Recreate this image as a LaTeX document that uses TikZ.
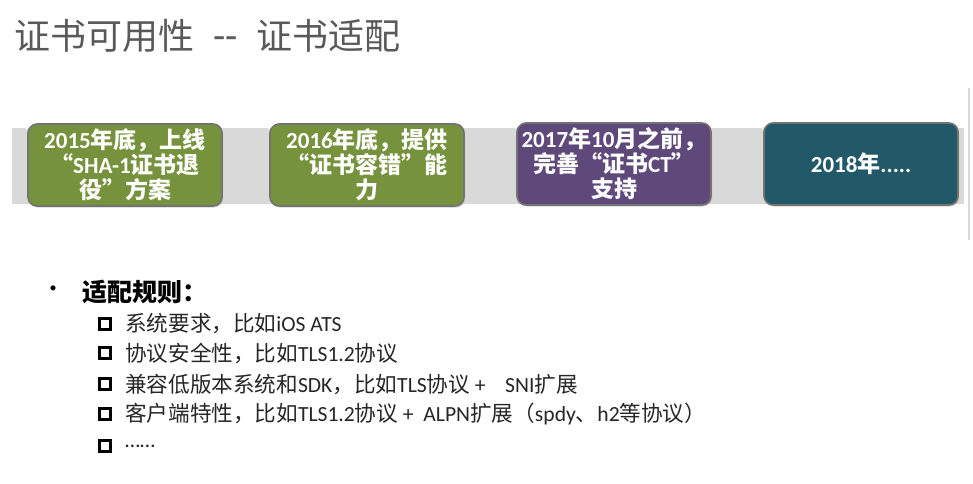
\documentclass[tikz,border=0pt]{standalone}
\usepackage{fontspec}
\setmainfont{Noto Sans CJK SC}
\newfontfamily\lat{Carlito}
\usetikzlibrary{shadows}
\definecolor{olive}{HTML}{76923C}
\definecolor{purp}{HTML}{5F497A}
\definecolor{teal}{HTML}{215968}
\definecolor{band}{HTML}{D9D9D9}
\definecolor{titlegray}{HTML}{595959}
\tikzset{
  stagebox/.style={rounded corners=9pt, draw=black!55, line width=1.6pt, minimum width=194pt, minimum height=82pt,
    text=white, font=\bfseries\fontsize{23}{25}\selectfont, align=center, inner sep=0pt,
    drop shadow={shadow xshift=1pt, shadow yshift=-1.5pt, opacity=0.35}},
  itemtext/.style={anchor=west, font=\fontsize{21.6}{23}\selectfont, text=black!85, inner sep=0pt},
  cbox/.style={draw=black, line width=3.2pt, minimum size=10.5pt, inner sep=0pt},
  notch/.style={fill=white}
}
\begin{document}
\begin{tikzpicture}[x=1pt,y=-1pt]
\useasboundingbox (0,0) rectangle (973,483);
\fill[white] (0,0) rectangle (973,483);
\node[anchor=west, text=titlegray, font=\fontsize{36}{40}\selectfont, inner sep=0pt] (title) at (14,36) {证书可用性\hspace{19pt}{\lat\fontsize{40}{40}\selectfont -{}-}\hspace{19pt}证书适配};
\draw[black!15, line width=1.5pt] (969,88) -- (969,240);
\fill[band] (12,128) rectangle (964,204);
\node[stagebox, fill=olive] (b1) at (125,165) {{\lat 2015}年底，上线\\“{\lat SHA-1}证书退\\役”方案};
\node[stagebox, fill=olive] (b2) at (367,165) {{\lat 2016}年底，提供\\“证书容错”能\\力};
\node[stagebox, fill=purp] (b3) at (614,164) {{\lat 2017}年{\lat 10}月之前，\\完善“证书{\lat CT}”\\支持};
\node[stagebox, fill=teal] (b4) at (861,164) {{\lat 2018}年{\lat .....}};
\foreach \b in {b1,b2,b3,b4} {
  \fill[notch] (\b.north west) ++(-1,-1) -- ++(8,0) -- ++(-8,8) -- cycle;
}
\node[anchor=west, font=\fontsize{24}{26}\selectfont, inner sep=0pt] (dot) at (41,292) {•};
\node[anchor=west, font=\bfseries\fontsize{25}{28}\selectfont, inner sep=0pt] (head) at (82,292) {适配规则：};
\foreach \y/\t [count=\i] in {324/{系统要求，比如{\lat iOS ATS}}, 353/{协议安全性，比如{\lat TLS1.2}协议}, 384/{兼容低版本系统和{\lat SDK}，比如{\lat TLS}协议{\lat\ +\ \ \ \ SNI}扩展}, 414/{客户端特性，比如{\lat TLS1.2}协议{\lat\ +\ \ ALPN}扩展（{\lat spdy}、{\lat h2}等协议）}, 446/{{\lat ……}}} {
  \node[cbox] (c\i) at (105,\y) {};
  \node[itemtext] (t\i) at (125,\y) {\t};
}
\end{tikzpicture}
\end{document}
